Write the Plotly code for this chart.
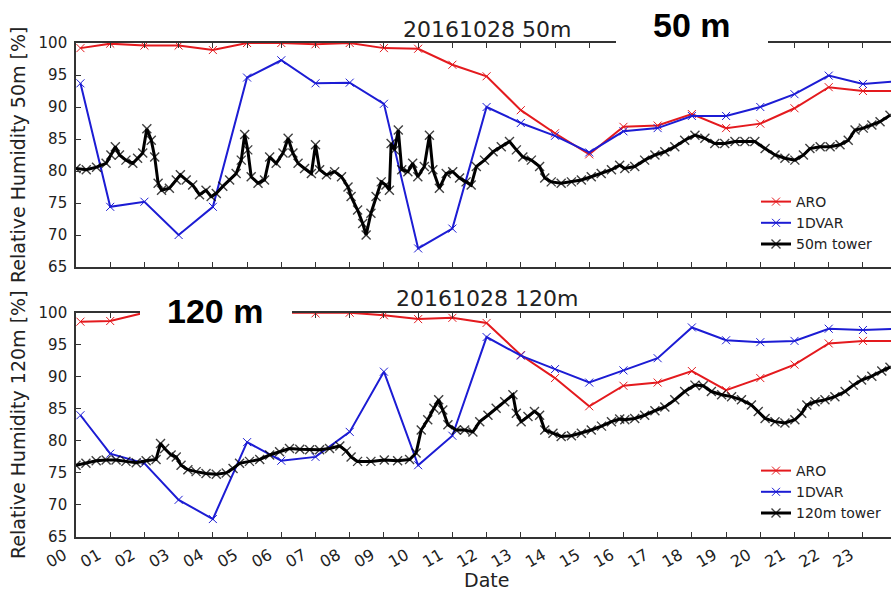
import plotly.graph_objects as go

W, H = 891, 592

# ---- model output, hourly (hours since 00 UTC) ----
model_hours = [0.13] + list(range(1, 25))

aro_50 = [99.2, 99.9, 99.6, 99.6, 98.9, 100.0, 100.0, 99.8, 100.0, 99.2, 99.1,
          96.6, 94.8, 89.5, 85.9, 82.6, 86.9, 87.1, 88.9, 86.7, 87.4, 89.8,
          93.1, 92.5, 92.5]
dvar_50 = [93.7, 74.4, 75.2, 70.0, 74.4, 94.6, 97.3, 93.7, 93.8, 90.5, 67.9,
           71.0, 90.0, 87.5, 85.5, 82.9, 86.2, 86.7, 88.6, 88.6, 90.0, 92.0,
           94.9, 93.6, 94.0]

aro_120 = [98.6, 98.7, 100.0, 100.0, 100.0, 100.0, 100.0, 99.9, 100.0, 99.6,
           99.0, 99.2, 98.4, 93.4, 89.8, 85.4, 88.6, 89.1, 90.9, 87.9, 89.8,
           91.9, 95.2, 95.6, 95.6]
dvar_120 = [84.0, 78.0, 76.5, 70.8, 67.8, 79.8, 76.9, 77.5, 81.4, 90.8, 76.2,
            80.8, 96.2, 93.3, 91.2, 89.1, 91.0, 92.9, 97.7, 95.7, 95.4, 95.6,
            97.5, 97.3, 97.5]

# ---- tower observations ----
tower50_hours = [0.0, 0.3, 0.6, 0.88, 1.02, 1.15, 1.27, 1.46, 1.66, 1.8, 1.95,
                 2.07, 2.2, 2.3, 2.4, 2.5, 2.73, 2.93, 3.05, 3.22, 3.41, 3.61,
                 3.8, 3.95, 4.1, 4.29, 4.49, 4.68, 4.83, 4.93, 5.02, 5.12, 5.32,
                 5.51, 5.66, 5.85, 6.05, 6.2, 6.34, 6.49, 6.68, 6.88, 7.0, 7.12,
                 7.32, 7.56, 7.76, 7.95, 8.04, 8.23, 8.38, 8.48, 8.62, 8.77,
                 8.92, 9.06, 9.16, 9.21, 9.31, 9.42, 9.52, 9.7, 9.84, 9.99,
                 10.18, 10.33, 10.43, 10.62, 10.82, 11.01, 11.21, 11.4, 11.55,
                 11.7, 11.94, 12.19, 12.43, 12.67, 12.87, 13.06, 13.31, 13.55,
                 13.7, 13.89, 14.18, 14.48, 14.77, 15.06, 15.35, 15.65, 15.89,
                 16.04, 16.33, 16.62, 16.92, 17.21, 17.5, 17.79, 18.09, 18.38,
                 18.67, 18.96, 19.26, 19.55, 19.84, 20.14, 20.43, 20.72, 21.01,
                 21.26, 21.45, 21.75, 22.04, 22.33, 22.57, 22.77, 23.01, 23.26,
                 23.5, 23.79]
tower50_rh = [80.4, 80.2, 80.6, 81.2, 82.5, 83.8, 82.5, 81.7, 81.2, 82.0, 82.8,
              86.6, 84.8, 82.2, 78.1, 77.0, 77.3, 78.6, 79.4, 78.6, 77.8, 76.3,
              77.0, 76.0, 76.5, 77.6, 78.6, 79.6, 81.7, 85.7, 83.3, 79.1, 78.1,
              78.6, 82.2, 81.2, 82.8, 85.1, 82.8, 81.2, 80.4, 79.6, 84.1, 80.2,
              79.4, 79.9, 79.1, 77.5, 76.0, 73.9, 71.8, 70.0, 73.4, 76.0, 78.3,
              77.8, 77.0, 84.3, 83.3, 86.4, 80.2, 79.9, 81.2, 79.1, 80.7, 85.6,
              80.2, 77.3, 79.6, 79.9, 78.9, 78.3, 77.8, 80.7, 81.7, 83.0, 83.8,
              84.6, 83.3, 82.2, 81.7, 80.7, 78.9, 78.3, 78.1, 78.3, 78.6, 79.1,
              79.6, 80.2, 80.9, 80.4, 80.7, 81.7, 82.5, 83.0, 83.8, 84.8, 85.6,
              85.1, 84.3, 84.3, 84.6, 84.6, 84.6, 83.5, 82.5, 82.0, 81.7, 82.5,
              83.5, 83.8, 83.8, 84.1, 84.8, 86.4, 86.7, 87.2, 87.7, 88.7]

tower120_hours = [0.0, 0.29, 0.59, 0.88, 1.17, 1.46, 1.76, 2.05, 2.34, 2.47,
                  2.59, 2.78, 2.93, 3.07, 3.27, 3.51, 3.8, 4.1, 4.39, 4.59,
                  4.78, 5.07, 5.37, 5.66, 5.95, 6.24, 6.54, 6.83, 7.12, 7.41,
                  7.71, 7.9, 8.04, 8.23, 8.62, 9.01, 9.4, 9.75, 9.94, 10.09,
                  10.28, 10.46, 10.6, 10.72, 10.87, 11.11, 11.36, 11.6, 11.8,
                  12.04, 12.28, 12.53, 12.77, 12.87, 13.01, 13.21, 13.4, 13.55,
                  13.7, 13.94, 14.18, 14.48, 14.77, 15.06, 15.36, 15.65, 15.89,
                  16.04, 16.33, 16.62, 16.92, 17.21, 17.5, 17.79, 18.09, 18.33,
                  18.57, 18.87, 19.16, 19.45, 19.74, 19.94, 20.14, 20.43, 20.72,
                  21.01, 21.21, 21.36, 21.6, 21.89, 22.18, 22.48, 22.72, 22.96,
                  23.26, 23.55, 23.79]
tower120_rh = [76.2, 76.5, 76.9, 77.0, 77.0, 76.8, 76.6, 76.9, 77.1, 79.6, 78.8,
               77.8, 77.5, 76.2, 75.5, 75.2, 74.9, 74.8, 75.0, 75.7, 76.5, 76.8,
               77.1, 77.8, 78.3, 78.8, 78.7, 78.6, 78.6, 78.8, 79.2, 78.4, 77.5,
               76.8, 76.8, 77.0, 76.9, 77.1, 78.1, 81.7, 83.3, 85.1, 86.4, 84.8,
               82.5, 81.7, 81.7, 81.4, 83.0, 84.0, 85.1, 86.1, 87.2, 84.3, 83.0,
               83.8, 84.6, 84.0, 81.7, 81.2, 80.7, 80.8, 81.2, 81.7, 82.3, 83.0,
               83.4, 83.3, 83.5, 84.0, 84.7, 85.3, 86.4, 87.7, 88.7, 88.6, 87.7,
               87.2, 86.9, 86.4, 85.6, 84.6, 83.5, 83.0, 82.8, 83.3, 84.3, 85.6,
               86.1, 86.4, 86.9, 87.7, 88.7, 89.5, 90.1, 90.9, 91.5]

hour_ticks = list(range(24))
hour_labels = [f"{h:02d}" for h in hour_ticks]
rh_ticks = [65, 70, 75, 80, 85, 90, 95, 100]

RED = "#e41a1e"
BLUE = "#1c1cd4"
AXC = "#333333"
FONT = "DejaVu Sans"


def px_x(p):
    return p / W


def px_y(p):
    return 1 - p / H


fig = go.Figure()


def add_panel(xa, ya, legend, aro, dvar, th, tv, tower_name):
    fig.add_trace(go.Scatter(
        x=model_hours, y=aro, mode="lines+markers", name="ARO",
        line=dict(color=RED, width=2),
        marker=dict(symbol="x-thin", size=8, line=dict(color=RED, width=1)),
        xaxis=xa, yaxis=ya, legend=legend))
    fig.add_trace(go.Scatter(
        x=model_hours, y=dvar, mode="lines+markers", name="1DVAR",
        line=dict(color=BLUE, width=2),
        marker=dict(symbol="x-thin", size=8, line=dict(color=BLUE, width=1)),
        xaxis=xa, yaxis=ya, legend=legend))
    fig.add_trace(go.Scatter(
        x=th, y=tv, mode="lines+markers", name=tower_name,
        line=dict(color="black", width=3),
        marker=dict(symbol="x-thin", size=9,
                    line=dict(color="rgba(0,0,0,0.75)", width=1.4)),
        xaxis=xa, yaxis=ya, legend=legend))


add_panel("x", "y", "legend", aro_50, dvar_50, tower50_hours, tower50_rh,
          "50m tower")
add_panel("x2", "y2", "legend2", aro_120, dvar_120, tower120_hours,
          tower120_rh, "120m tower")

x_left = px_x(76)
top_dom = [px_y(267), px_y(43)]
bot_dom = [px_y(537), px_y(312.7)]

xcommon = dict(range=[0, 23.82], tickvals=hour_ticks, ticktext=hour_labels,
               ticks="inside", ticklen=5, tickcolor=AXC, showline=True,
               linecolor=AXC, linewidth=1.6, mirror="allticks",
               showgrid=False, zeroline=False, domain=[x_left, 1],
               automargin=False)
ycommon = dict(range=[65, 100], tickvals=rh_ticks, ticks="inside", ticklen=5,
               tickcolor=AXC, showline=True, linecolor=AXC, linewidth=1.6,
               mirror=False, showgrid=False, zeroline=False,
               tickfont=dict(family=FONT, size=15, color="#222"),
               ticklabelstandoff=4, automargin=False)

fig.update_layout(
    width=W, height=H, margin=dict(l=0, r=0, t=0, b=0),
    paper_bgcolor="white", plot_bgcolor="white",
    font=dict(family=FONT, color="#222"),
    xaxis=dict(**xcommon, anchor="y", showticklabels=False),
    yaxis=dict(**ycommon, anchor="x", domain=top_dom),
    xaxis2=dict(**xcommon, anchor="y2", showticklabels=True, tickangle=-30,
                ticklabelstandoff=1, ticklabelshift=-12,
                tickfont=dict(family=FONT, size=16, color="#222")),
    yaxis2=dict(**ycommon, anchor="x2", domain=bot_dom),
    legend=dict(x=px_x(756), y=px_y(186), xanchor="left", yanchor="top",
                bgcolor="rgba(0,0,0,0)", font=dict(family=FONT, size=14),
                itemwidth=30, tracegroupgap=0),
    legend2=dict(x=px_x(756), y=px_y(455), xanchor="left", yanchor="top",
                 bgcolor="rgba(0,0,0,0)", font=dict(family=FONT, size=14),
                 itemwidth=30, tracegroupgap=0),
    showlegend=True,
)

# white panels that break the top frame behind the height labels
fig.add_shape(type="rect", xref="paper", yref="paper",
              x0=px_x(616), x1=px_x(768), y0=px_y(48), y1=px_y(0),
              fillcolor="white", line=dict(width=0), layer="above")
fig.add_shape(type="rect", xref="paper", yref="paper",
              x0=px_x(140), x1=px_x(292), y0=px_y(329), y1=px_y(296),
              fillcolor="white", line=dict(width=0), layer="above")

ann = [
    dict(text="20161028 50m", x=px_x(487), y=px_y(29),
         font=dict(family=FONT, size=22, color="#222")),
    dict(text="20161028 120m", x=px_x(487), y=px_y(298),
         font=dict(family=FONT, size=22, color="#222")),
    dict(text="<b>50 m</b>", x=px_x(692), y=px_y(25),
         font=dict(family="Liberation Sans", size=34, color="black")),
    dict(text="<b>120 m</b>", x=px_x(215), y=px_y(311),
         font=dict(family="Liberation Sans", size=34, color="black")),
    dict(text="Date", x=px_x(487), y=px_y(580),
         font=dict(family=FONT, size=19, color="#222")),
    dict(text="Relative Humidity 50m [%]", x=px_x(18), y=px_y(155),
         textangle=-90, font=dict(family=FONT, size=19, color="#222")),
    dict(text="Relative Humidity 120m [%]", x=px_x(18), y=px_y(425),
         textangle=-90, font=dict(family=FONT, size=19, color="#222")),
]
for a in ann:
    fig.add_annotation(xref="paper", yref="paper", showarrow=False,
                       xanchor="center", yanchor="middle", **a)

fig.write_html("out.html")
